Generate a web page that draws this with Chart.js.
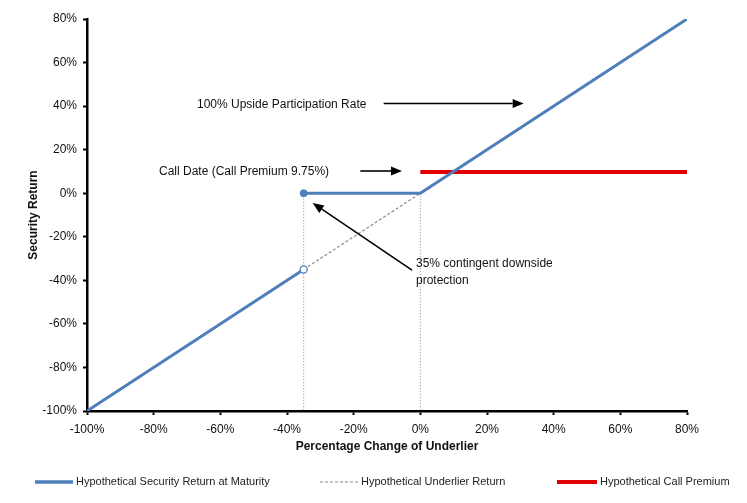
<!DOCTYPE html>
<html>
<head>
<meta charset="utf-8">
<script src="https://cdn.jsdelivr.net/npm/chart.js@4.4.1/dist/chart.umd.min.js"></script>
<style>
  html, body { margin: 0; padding: 0; background: #fff; }
  #wrap { width: 747px; height: 503px; position: relative; }
</style>
</head>
<body>
<div id="wrap"><canvas id="payoffChart" width="747" height="503"></canvas></div>
<script>
// Valores (em %)
const secX = [-100, -35, -35, -35, 0, 80];
const secY = [-100, -35, null, 0, 0, 80];
const undX = [-35, 0];
const undY = [-35, 0];
const callX = [0, 80];
const callY = [9.75, 9.75];
const barrierX = [-35, -35];
const barrierY = [0, -100];
const zeroX = [0, 0];
const zeroY = [0, -100];
const openDot = [-35, -35];
const filledDot = [-35, 0];

const legendLabels = ['Hypothetical Security Return at Maturity', 'Hypothetical Underlier Return', 'Hypothetical Call Premium'];

// Anotações: setas e textos (coordenadas nos eixos do gráfico)
const arrows = [
  { from: [-11, 41.2], to: [31, 41.2] },
  { from: [-18, 10.2], to: [-5.5, 10.2] },
  { from: [-2.5, -35.3], to: [-32.3, -4.5] }
];
const notes = [
  { text: '100% Upside Participation Rate', at: [-67, 40.8] },
  { text: 'Call Date (Call Premium 9.75%)', at: [-78.4, 9.9] },
  { text: '35% contingent downside', at: [-1.3, -32.4] },
  { text: 'protection', at: [-1.3, -40.2] }
];

const blue = '#4f7fba';
const red = '#e00000';
const gray = '#8a8a8a';
const fontFamily = 'Arial, "Liberation Sans", sans-serif';

function pts(xs, ys) {
  return xs.map((x, i) => ({ x: x, y: ys[i] }));
}

const extras = {
  id: 'extras',
  afterDatasetsDraw(chart) {
    const ctx = chart.ctx;
    const sx = chart.scales.x, sy = chart.scales.y;
    ctx.save();
    // setas
    ctx.strokeStyle = '#000';
    ctx.fillStyle = '#000';
    ctx.lineWidth = 1.6;
    arrows.forEach(a => {
      const x1 = sx.getPixelForValue(a.from[0]), y1 = sy.getPixelForValue(a.from[1]);
      const x2 = sx.getPixelForValue(a.to[0]), y2 = sy.getPixelForValue(a.to[1]);
      const ang = Math.atan2(y2 - y1, x2 - x1);
      const len = 11, half = 4.5;
      const bx = x2 - len * Math.cos(ang), by = y2 - len * Math.sin(ang);
      ctx.beginPath();
      ctx.moveTo(x1, y1);
      ctx.lineTo(bx, by);
      ctx.stroke();
      ctx.beginPath();
      ctx.moveTo(x2, y2);
      ctx.lineTo(bx + half * Math.sin(ang), by - half * Math.cos(ang));
      ctx.lineTo(bx - half * Math.sin(ang), by + half * Math.cos(ang));
      ctx.closePath();
      ctx.fill();
    });
    // textos
    ctx.font = '12px ' + fontFamily;
    ctx.fillStyle = '#111';
    ctx.textBaseline = 'middle';
    ctx.textAlign = 'left';
    notes.forEach(n => {
      ctx.fillText(n.text, sx.getPixelForValue(n.at[0]), sy.getPixelForValue(n.at[1]));
    });
    ctx.restore();
  },
  afterDraw(chart) {
    // legenda na parte de baixo
    const ctx = chart.ctx;
    const y = 482;
    const items = [
      { x: 35, len: 38, color: blue, width: 3.5, dash: [] },
      { x: 320, len: 38, color: gray, width: 1.2, dash: [3, 2] },
      { x: 557, len: 40, color: red, width: 4, dash: [] }
    ];
    ctx.save();
    ctx.font = '11px ' + fontFamily;
    ctx.fillStyle = '#222';
    ctx.textBaseline = 'middle';
    items.forEach((it, i) => {
      ctx.strokeStyle = it.color;
      ctx.lineWidth = it.width;
      ctx.setLineDash(it.dash);
      ctx.beginPath();
      ctx.moveTo(it.x, y);
      ctx.lineTo(it.x + it.len, y);
      ctx.stroke();
      ctx.setLineDash([]);
      ctx.fillText(legendLabels[i], it.x + it.len + 3, y);
    });
    ctx.restore();
  }
};

new Chart(document.getElementById('payoffChart').getContext('2d'), {
  type: 'line',
  data: {
    datasets: [
      { label: 'dotted -35', data: pts(barrierX, barrierY), borderColor: gray, borderWidth: 1, borderDash: [1, 2], pointRadius: 0, order: 5 },
      { label: 'dotted 0', data: pts(zeroX, zeroY), borderColor: gray, borderWidth: 1, borderDash: [1, 2], pointRadius: 0, order: 5 },
      { label: legendLabels[1], data: pts(undX, undY), borderColor: gray, borderWidth: 1.2, borderDash: [3, 2], pointRadius: 0, order: 4 },
      { label: legendLabels[2], data: pts(callX, callY), borderColor: red, borderWidth: 4, pointRadius: 0, order: 3 },
      { label: legendLabels[0], data: pts(secX, secY), borderColor: blue, borderWidth: 3, pointRadius: 0, spanGaps: false, order: 2 },
      { label: 'open', data: [{ x: openDot[0], y: openDot[1] }], borderColor: blue, backgroundColor: '#fff', borderWidth: 1.3, pointRadius: 3.5, showLine: false, order: 1 },
      { label: 'filled', data: [{ x: filledDot[0], y: filledDot[1] }], borderColor: blue, backgroundColor: blue, borderWidth: 1, pointRadius: 3.5, showLine: false, order: 1 }
    ]
  },
  options: {
    responsive: false,
    animation: false,
    layout: { padding: { left: 0, top: 19, right: 60, bottom: 0 } },
    plugins: {
      legend: { display: false },
      tooltip: { enabled: false }
    },
    elements: { line: { tension: 0 } },
    scales: {
      x: {
        type: 'linear',
        min: -100,
        max: 80,
        afterFit: function(scale) { scale.height = 92; },
        grid: { drawOnChartArea: false, tickLength: 4, color: '#000', tickWidth: 2 },
        border: { color: '#000', width: 2.5 },
        ticks: {
          stepSize: 20,
          padding: 7,
          color: '#111',
          font: { family: fontFamily, size: 12 },
          callback: v => v + '%'
        },
        title: {
          display: true,
          text: 'Percentage Change of Underlier',
          color: '#111',
          font: { family: fontFamily, size: 12, weight: 'bold' },
          padding: { top: 0, bottom: 49 }
        }
      },
      y: {
        type: 'linear',
        min: -100,
        max: 80,
        afterFit: function(scale) { scale.width = 87; },
        grid: { drawOnChartArea: false, tickLength: 4, color: '#000', tickWidth: 2 },
        border: { color: '#000', width: 2.5 },
        ticks: {
          stepSize: 20,
          padding: 6,
          color: '#111',
          font: { family: fontFamily, size: 12 },
          callback: v => v + '%'
        },
        title: {
          display: true,
          text: 'Security Return',
          color: '#111',
          font: { family: fontFamily, size: 12, weight: 'bold' },
          padding: { top: 26, bottom: 0 }
        }
      }
    }
  },
  plugins: [extras]
});
</script>
</body>
</html>
